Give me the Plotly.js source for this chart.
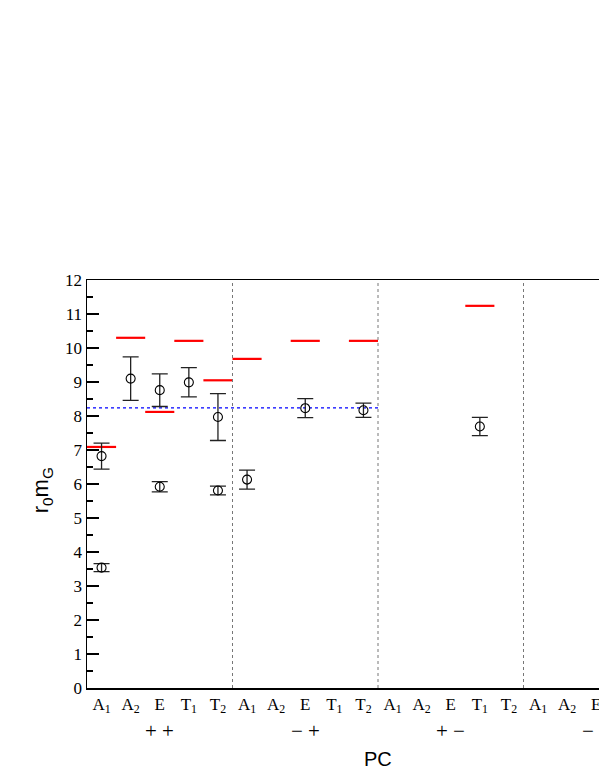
<!DOCTYPE html>
<html>
<head>
<meta charset="utf-8">
<script src="https://cdn.plot.ly/plotly-3.0.1.min.js"></script>
<style>
html,body{margin:0;padding:0;overflow:hidden;background:#fff;}
#chart{width:700px;height:776px;}
</style>
</head>
<body>
<div id="chart"></div>
<script>
// Categories
const irrepLabels = ['A<sub>1</sub>','A<sub>2</sub>','E','T<sub>1</sub>','T<sub>2</sub>'];
const pcLabels = ['+ +','\u2212 +','+ \u2212','\u2212 \u2212'];

// Measured masses (circles with error bars)
const ptPC    = [0,0,0,0,0,0,0,0, 1,1,1, 2];
const ptIrrep = [0,0,1,2,2,3,4,4, 0,2,4, 3];
const ptValue = [6.82,3.54,9.10,8.76,5.92,8.99,7.97,5.81, 6.13,8.23,8.17, 7.69];
const ptError = [0.38,0.12,0.64,0.48,0.15,0.43,0.69,0.13, 0.28,0.28,0.21, 0.27];

// Reference levels (red bars)
const refPC    = [0,0,0,0,0, 1,1,1, 2];
const refIrrep = [0,1,2,3,4, 0,2,4, 3];
const refValue = [7.09,10.30,8.12,10.21,9.05, 9.68,10.21,10.21, 11.24];

// Blue dotted level
const avgValue = 8.24;
const avgPCs = [0,1];

const nIr = irrepLabels.length;
const nPC = pcLabels.length;
const xOf = (pc, ir) => pc*nIr + ir;

const SERIF = "'Liberation Serif', 'Times New Roman', 'DejaVu Serif', serif";
const SANS = "'Liberation Sans', Arial, 'DejaVu Sans', sans-serif";

const tickvals = [], ticktext = [];
for (let p=0;p<nPC;p++) for (let i=0;i<nIr;i++){ tickvals.push(xOf(p,i)); ticktext.push(irrepLabels[i]); }

const redX = [], redY = [];
refValue.forEach((v,k)=>{ const c = xOf(refPC[k],refIrrep[k]); redX.push(c-0.5,c+0.5,null); redY.push(v,v,null); });

const traces = [
  {x: redX, y: redY, mode:'lines', line:{color:'#ff0000', width:2.2}, hoverinfo:'skip', showlegend:false},
  {x: [xOf(avgPCs[0],0)-0.5, xOf(avgPCs[avgPCs.length-1],nIr-1)+0.5], y:[avgValue,avgValue], mode:'lines',
   line:{color:'#0000ff', width:1.2, dash:'dot'}, showlegend:false},
  {x: ptValue.map((v,k)=>xOf(ptPC[k],ptIrrep[k])), y: ptValue, mode:'markers',
   marker:{symbol:'circle-open', size:9, color:'#000', line:{width:1.1,color:'#000'}},
   error_y:{type:'data', array: ptError, visible:true, color:'#222', thickness:1.3, width:8},
   showlegend:false}
];

const shapes = [];
for (let p=1;p<nPC;p++){
  shapes.push({type:'line', xref:'x', yref:'paper', x0:p*nIr-0.5, x1:p*nIr-0.5, y0:0, y1:1,
    line:{color:'#777', width:1, dash:'dot'}});
}

const annotations = pcLabels.map((t,p)=>({text:t, x:xOf(p,2), y:-0.105, xref:'x', yref:'paper',
  showarrow:false, xanchor:'center', yanchor:'middle', font:{family:SERIF, size:21, color:'#000'}}));
annotations.push({text:'PC', x:0.5, y:-0.174, xref:'paper', yref:'paper', showarrow:false,
  xanchor:'center', yanchor:'middle', font:{family:SANS, size:20, color:'#000'}});
annotations.push({text:'r<sub>0</sub>m<sub>G</sub>', x:-0.077, y:0.485, xref:'paper', yref:'paper', showarrow:false,
  textangle:-90, xanchor:'center', yanchor:'middle', font:{family:SANS, size:22, color:'#000'}});

const layout = {
  width:700, height:776,
  margin:{l:87, r:31, t:280, b:88},
  paper_bgcolor:'#fff', plot_bgcolor:'#fff',
  xaxis:{range:[-0.5, nPC*nIr-0.5], tickmode:'array', tickvals, ticktext, showgrid:false, zeroline:false,
    showline:true, mirror:true, linecolor:'#000', linewidth:1.5, ticks:'',
    tickfont:{family:SERIF, size:17, color:'#000'}},
  yaxis:{range:[0,12], dtick:1, showgrid:false, zeroline:false, showline:true, mirror:true, linecolor:'#000', linewidth:1.5,
    ticks:'inside', ticklen:12, tickwidth:1.3, tickcolor:'#000',
    minor:{dtick:0.5, ticks:'inside', ticklen:6, tickwidth:1.2, tickcolor:'#000'},
    tickfont:{family:SERIF, size:17, color:'#000'}},
  shapes, annotations
};

Plotly.newPlot('chart', traces, layout, {displayModeBar:false, staticPlot:true});
</script>
</body>
</html>
